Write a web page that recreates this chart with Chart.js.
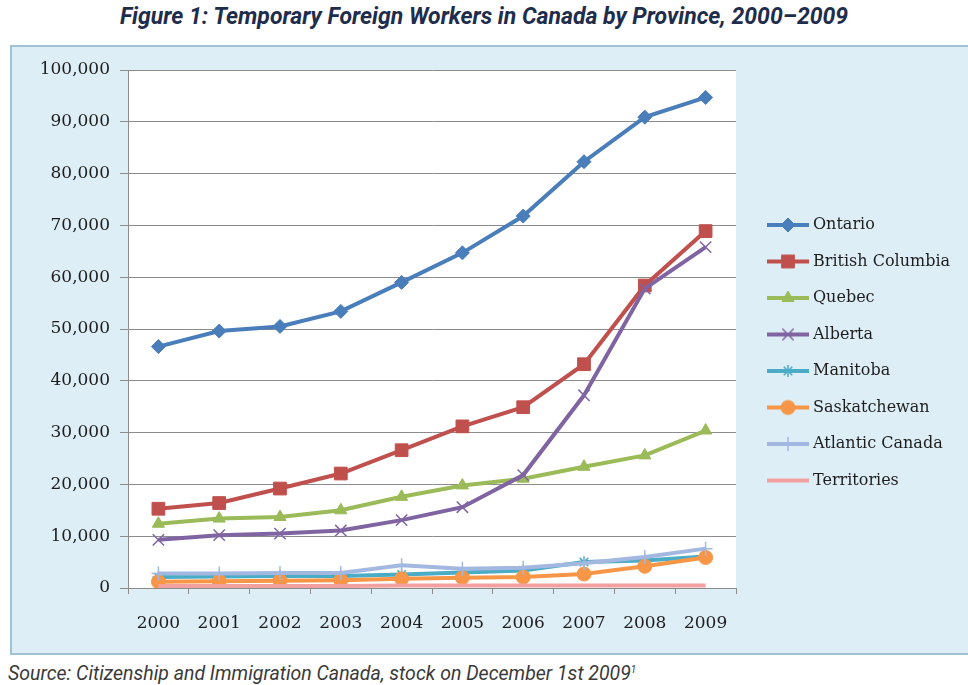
<!DOCTYPE html>
<html>
<head>
<meta charset="utf-8">
<script src="https://cdn.jsdelivr.net/npm/chart.js@4.4.1/dist/chart.umd.min.js"></script>
<style>
  body { margin: 0; background: #fff; width: 968px; height: 685px; overflow: hidden; position: relative; }
  #title { position: absolute; left: 0; width: 968px; top: 3px; text-align: center;
           font: italic bold 23px Roboto, sans-serif; color: #1f2d4d; }
  #panel { position: absolute; left: 10px; top: 45px; width: 970px; height: 606px;
           border: 2px solid #9cc3cf; background: #ddeef6; }
  #panel canvas { position: absolute; left: 0; top: 0; }
  #source { position: absolute; left: 8px; top: 662px; font: italic 19.5px Roboto, sans-serif; color: #3a3a3a; }
  #source sup { font-size: 10px; }
</style>
</head>
<body>
<div id="title">Figure 1: Temporary Foreign Workers in Canada by Province, 2000–2009</div>
<div id="panel"><canvas id="tfwChart" width="956" height="606"></canvas></div>
<div id="source">Source: Citizenship and Immigration Canada, stock on December 1st 2009<sup>1</sup></div>
<script>
// values
const years = ["2000", "2001", "2002", "2003", "2004", "2005", "2006", "2007", "2008", "2009"];
const ontario = [46600, 49600, 50500, 53400, 59000, 64700, 71800, 82300, 90900, 94700];
const britishColumbia = [15300, 16400, 19200, 22100, 26600, 31200, 34900, 43200, 58400, 68900];
const quebec = [12400, 13400, 13700, 15000, 17600, 19800, 21100, 23400, 25600, 30400];
const alberta = [9300, 10200, 10500, 11100, 13100, 15600, 21800, 37200, 57800, 65800];
const manitoba = [2100, 2200, 2300, 2300, 2600, 3000, 3400, 5000, 5300, 6100];
const saskatchewan = [1200, 1300, 1400, 1500, 1800, 2000, 2100, 2700, 4200, 5900];
const atlanticCanada = [2800, 2800, 2900, 2900, 4400, 3700, 3900, 4800, 6000, 7600];
const territories = [400, 400, 400, 400, 500, 500, 500, 500, 500, 500];
const yTicks = [0, 10000, 20000, 30000, 40000, 50000, 60000, 70000, 80000, 90000, 100000];

const SERIES = [
  { label: "Ontario", data: ontario, color: "#4a7ebb", style: "rectRot", radius: 7, bw: 1 },
  { label: "British Columbia", data: britishColumbia, color: "#c0504d", style: "rect", radius: 9, bw: 1 },
  { label: "Quebec", data: quebec, color: "#9bbb59", style: "triangle", radius: 7, bw: 1 },
  { label: "Alberta", data: alberta, color: "#8064a2", style: "crossRot", radius: 8, bw: 1.5 },
  { label: "Manitoba", data: manitoba, color: "#4bacc6", style: "star", radius: 6, bw: 1.5 },
  { label: "Saskatchewan", data: saskatchewan, color: "#f79646", style: "circle", radius: 7, bw: 1 },
  { label: "Atlantic Canada", data: atlanticCanada, color: "#a3b8e0", style: "cross", radius: 7, bw: 1.5 },
  { label: "Territories", data: territories, color: "#f2a0a0", style: false, radius: 0, bw: 0 },
];

const FONT = "'DejaVu Serif', serif";
const TEXT = "#1e1e1e";
const GRID = "#8c8c8c";

// small line+marker picture for each legend entry
function legendIcon(s) {
  const c = document.createElement("canvas");
  c.width = 42;
  c.height = 18;
  const g = c.getContext("2d");
  g.strokeStyle = s.color;
  g.lineWidth = 4;
  g.beginPath();
  g.moveTo(0, 9);
  g.lineTo(42, 9);
  g.stroke();
  if (s.style && Chart.helpers && Chart.helpers.drawPoint) {
    g.fillStyle = s.color;
    g.strokeStyle = s.color;
    g.lineWidth = s.bw;
    Chart.helpers.drawPoint(g, { pointStyle: s.style, radius: s.radius, borderWidth: s.bw, rotation: 0 }, 21, 9);
  }
  return c;
}
const icons = SERIES.map(legendIcon);

const datasets = SERIES.map((s, i) => ({
  label: s.label,
  data: s.data,
  borderColor: s.color,
  backgroundColor: s.color,
  borderWidth: 4,
  pointStyle: s.style,
  pointRadius: s.radius,
  pointBorderWidth: s.bw,
  pointBorderColor: s.color,
  pointBackgroundColor: s.color,
  tension: 0,
  order: SERIES.length - i, // later series drawn on top, like the original
}));

new Chart(document.getElementById("tfwChart"), {
  type: "line",
  data: { labels: years, datasets: datasets },
  options: {
    responsive: false,
    animation: false,
    layout: { padding: { top: 23, right: 17.5, bottom: 17.5, left: 0 } },
    scales: {
      x: {
        offset: true,
        grid: { offset: true, drawOnChartArea: false, tickLength: 6, color: GRID },
        border: { color: GRID },
        ticks: { font: { family: FONT, size: 17 }, color: TEXT, padding: 19 },
        afterFit: (s) => { s.height = 47.5; },
      },
      y: {
        min: 0,
        max: 100000,
        afterBuildTicks: (s) => { s.ticks = yTicks.map((v) => ({ value: v })); },
        grid: { color: GRID, tickLength: 8 },
        border: { color: GRID },
        ticks: {
          font: { family: FONT, size: 17 },
          color: TEXT,
          padding: 10,
          callback: (v) => v.toLocaleString("en-US"),
        },
        afterFit: (s) => { s.width = 116; },
      },
      gap: {
        type: "linear",
        position: "right",
        grid: { display: false },
        border: { display: false },
        ticks: { display: false },
        afterFit: (s) => { s.width = 14.5; },
      },
    },
    plugins: {
      legend: {
        position: "right",
        maxWidth: 200,
        labels: {
          usePointStyle: true,
          pointStyleWidth: 34,
          padding: 20.5,
          font: { family: FONT, size: 16 },
          color: TEXT,
          sort: (a, b) => a.datasetIndex - b.datasetIndex,
          generateLabels: (chart) => {
            const items = Chart.defaults.plugins.legend.labels.generateLabels(chart);
            items.forEach((it) => { it.pointStyle = icons[it.datasetIndex]; it.rotation = 0; });
            return items;
          },
        },
      },
      tooltip: { enabled: false },
    },
  },
  plugins: [{
    id: "plotBackground",
    beforeDraw(chart) {
      const a = chart.chartArea;
      const ctx = chart.ctx;
      ctx.save();
      ctx.fillStyle = "#fff";
      ctx.fillRect(a.left, a.top, a.right - a.left, a.bottom - a.top);
      ctx.restore();
    },
  }],
});
</script>
</body>
</html>
